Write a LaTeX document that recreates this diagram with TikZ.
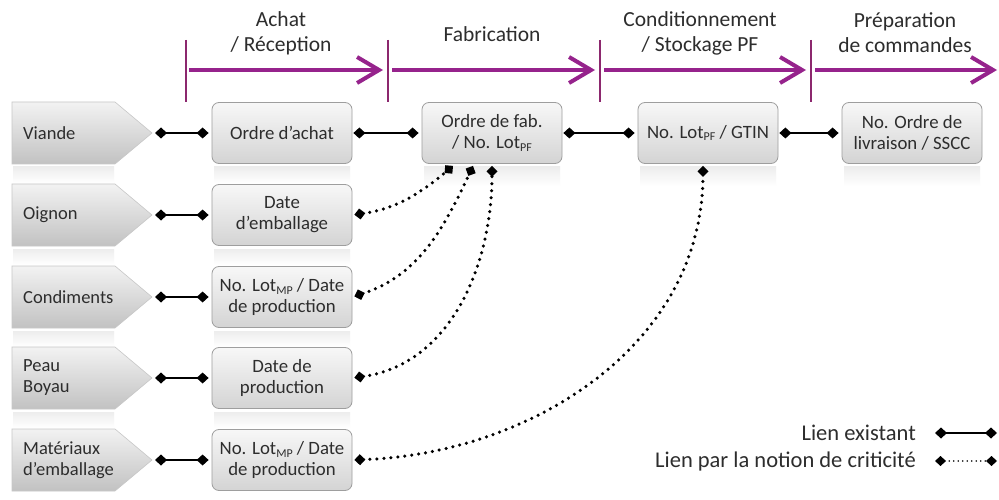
\documentclass[tikz,border=0pt]{standalone}
\usepackage{fontspec}
\setmainfont{Carlito}
\usetikzlibrary{arrows.meta,calc}
\definecolor{phase}{RGB}{150,35,140}
\definecolor{sepcol}{RGB}{140,40,110}
\definecolor{txt}{RGB}{45,45,45}
\newcommand\lotsub[1]{\raisebox{-0.3ex}{\fontsize{12}{12}\selectfont #1}}
\begin{document}
\begin{tikzpicture}[x=1pt,y=1pt,
  box/.style={rectangle, rounded corners=7pt, draw=black!38, line width=0.8pt,
    top color=black!3, bottom color=black!17, minimum width=140pt, minimum height=61pt,
    align=center, inner sep=2pt, text=txt, font=\fontsize{18.8}{21}\selectfont},
  srcshape/.style={draw=black!22, line width=0.6pt, top color=black!5, bottom color=black!24},
  srclabel/.style={anchor=west, align=left, text=txt, font=\fontsize{18.5}{21}\selectfont, inner sep=0pt},
  phaselabel/.style={align=center, text=txt, font=\fontsize{21.5}{25}\selectfont},
  phasearrow/.style={draw=phase, line width=4pt, -{Straight Barb[length=22pt,width=26pt]}},
  sepline/.style={draw=sepcol, line width=1.3pt},
  refl/.style={top color=black!7, bottom color=white, draw=none},
  link/.style={draw=black, line width=2.2pt,
    {Diamond[length=12pt,width=11pt]}-{Diamond[length=12pt,width=11pt]}},
  critlink/.style={draw=black, line width=3.5pt, line cap=round, dash pattern=on 0pt off 7pt,
    {Diamond[length=11pt,width=11pt]}-{Diamond[length=11pt,width=11pt]}},
  legcrit/.style={draw=black, line width=1.8pt, line cap=round, dash pattern=on 0pt off 4.5pt,
    {Diamond[length=11pt,width=10pt]}-{Diamond[length=11pt,width=10pt]}},
  leglabel/.style={anchor=east, text=txt, font=\fontsize{22.5}{25}\selectfont, inner sep=0pt},
]
\useasboundingbox (0,0) rectangle (999,-500);
\fill[white] (0,0) rectangle (999,-500);

% phase headings
\node[phaselabel] (hachat) at (281,-33) {Achat\\/ Réception};
\node[phaselabel] (hfab) at (492,-34) {Fabrication};
\node[phaselabel] (hcond) at (700,-33) {Conditionnement\\/ Stockage PF};
\node[phaselabel] (hprep) at (905,-33) {Préparation\\de commandes};

% separators
\foreach \x/\n in {186/s1,388/s2,600/s3,811/s4}{
  \coordinate (\n top) at (\x,-40);
  \coordinate (\n bot) at (\x,-102);
  \draw[sepline] (\n top) -- (\n bot);
}
% phase arrows
\coordinate (a1s) at (189,-70); \coordinate (a1e) at (383,-70);
\coordinate (a2s) at (392,-70); \coordinate (a2e) at (595,-70);
\coordinate (a3s) at (604,-70); \coordinate (a3e) at (806,-70);
\coordinate (a4s) at (815,-70); \coordinate (a4e) at (997,-70);
\draw[phasearrow] (a1s) -- (a1e);
\draw[phasearrow] (a2s) -- (a2e);
\draw[phasearrow] (a3s) -- (a3e);
\draw[phasearrow] (a4s) -- (a4e);

% reflections
\foreach \y in {133,215,297,378}{
  \path[refl] (214,-\y-34) rectangle (350,-\y-50);
  \path[refl] (13,-\y-34) rectangle (114,-\y-50);
}
\foreach \x in {492,708,912}{
  \path[refl] (\x-68,-167) rectangle (\x+68,-186);
}

% source pentagons
\foreach \y/\n in {133/viande,215/oignon,297/condiments,378/peau,460/materiaux}{
  \path[srcshape] (12,-\y+31) -- (115,-\y+31) -- (152,-\y) -- (115,-\y-31) -- (12,-\y-31) -- cycle;
  \coordinate (\n tip) at (152,-\y);
}
\node[srclabel] (lviande) at (23,-133) {Viande};
\node[srclabel] (loignon) at (23,-215) {Oignon};
\node[srclabel] (lcond) at (23,-297) {Condiments};
\node[srclabel] (lpeau) at (23,-378) {Peau\\Boyau};
\node[srclabel] (lmat) at (23,-460) {Matériaux\\d'emballage};

% boxes
\node[box] (achat) at (282,-133) {Ordre d’achat};
\node[box] (emb) at (282,-215) {Date\\d’emballage};
\node[box] (lotcond) at (282,-297) {No. Lot\lotsub{MP} / Date\\de production};
\node[box] (prodpb) at (282,-378) {Date de\\production};
\node[box] (lotmat) at (282,-460) {No. Lot\lotsub{MP} / Date\\de production};
\node[box] (fab) at (492,-133) {Ordre de fab.\\/ No. Lot\lotsub{PF}};
\node[box] (gtin) at (708,-133) {No. Lot\lotsub{PF} / GTIN};
\node[box] (livr) at (912,-133) {No. Ordre de\\livraison / SSCC};

% existing links
\draw[link, shorten <=3pt, shorten >=3pt] (viandetip) -- (achat.west);
\draw[link, shorten <=3pt, shorten >=3pt] (oignontip) -- (emb.west);
\draw[link, shorten <=3pt, shorten >=3pt] (condimentstip) -- (lotcond.west);
\draw[link, shorten <=3pt, shorten >=3pt] (peautip) -- (prodpb.west);
\draw[link, shorten <=3pt, shorten >=3pt] (materiauxtip) -- (lotmat.west);
\draw[link, shorten <=1pt, shorten >=3pt] (achat.east) -- (fab.west);
\draw[link, shorten <=1pt, shorten >=3pt] (fab.east) -- (gtin.west);
\draw[link, shorten <=1pt, shorten >=3pt] (gtin.east) -- (livr.west);

% criticality links
\coordinate (f1) at ($(fab.south)+(-39,-2)$);
\coordinate (f2) at ($(fab.south)+(-19,-2)$);
\coordinate (f3) at ($(fab.south)+(0,-2)$);
\coordinate (g1) at ($(gtin.south)+(-5,-2)$);
\draw[critlink, shorten <=2pt] (emb.east) to[out=8,in=-140] (f1);
\draw[critlink, shorten <=2pt] (lotcond.east) to[out=18,in=-115] (f2);
\draw[critlink, shorten <=2pt] (prodpb.east) to[out=8,in=-90] (f3);
\draw[critlink, shorten <=2pt] (lotmat.east) to[out=2,in=-90] (g1);

% legend
\node[leglabel] (leg1) at (916,-433) {Lien existant};
\node[leglabel] (leg2) at (916,-461) {Lien par la notion de criticité};
\coordinate (l1a) at (935,-433); \coordinate (l1b) at (997,-433);
\coordinate (l2a) at (935,-461); \coordinate (l2b) at (997,-461);
\draw[link] (l1a) -- (l1b);
\draw[legcrit] (l2a) -- (l2b);
\end{tikzpicture}
\end{document}
